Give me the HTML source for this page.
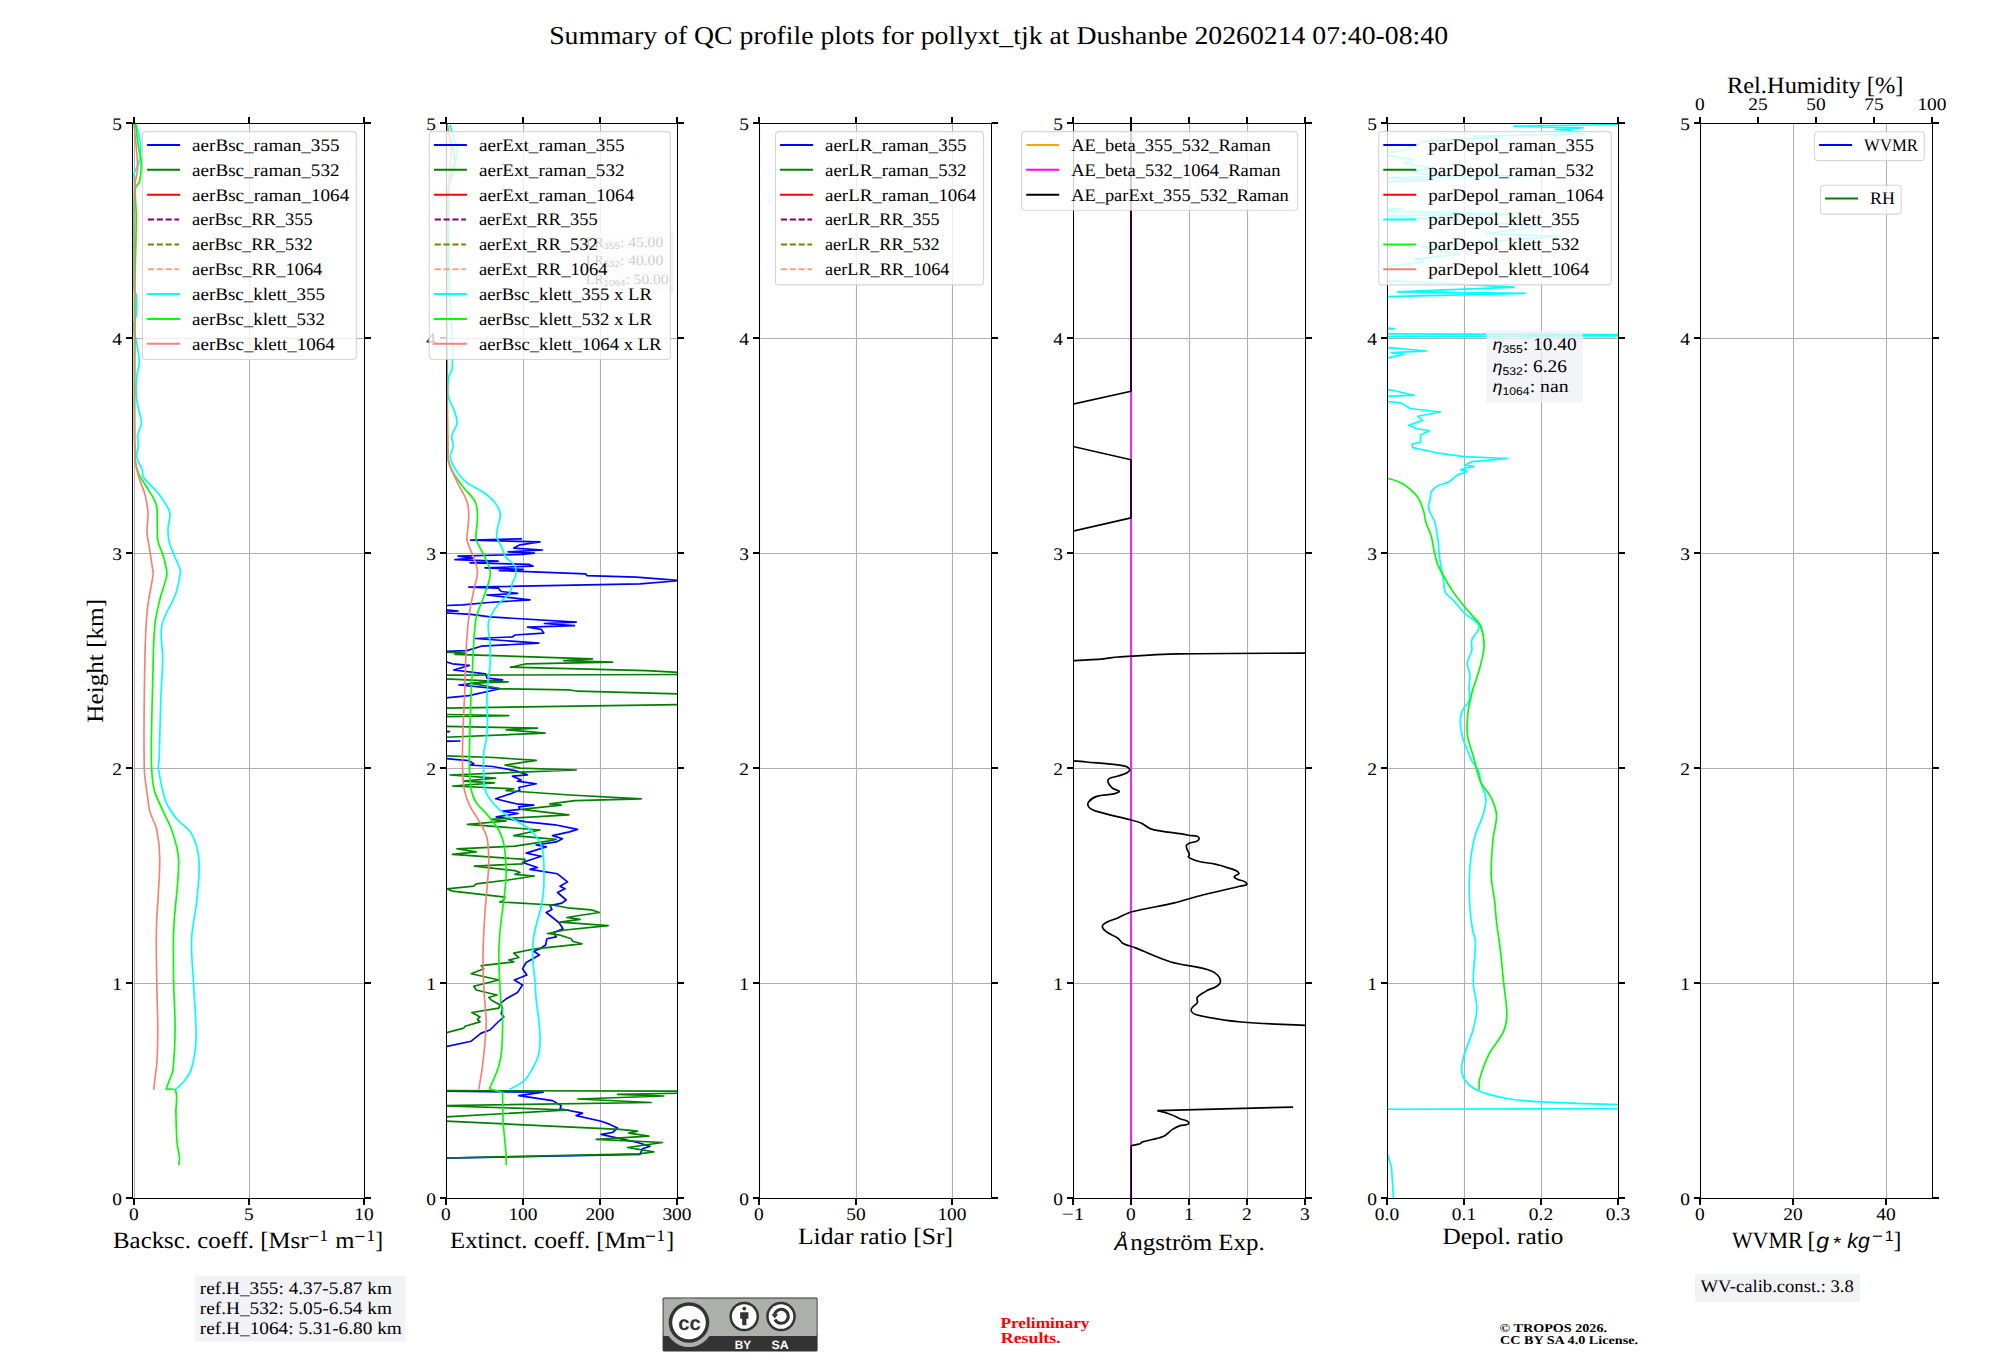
<!DOCTYPE html><html><head><meta charset="utf-8"><style>html,body{margin:0;padding:0;background:#fff}svg{display:block;text-rendering:geometricPrecision}.fs{font-family:"Liberation Serif",serif}.fa{font-family:"Liberation Sans",sans-serif}</style></head><body><svg width="2000" height="1360" viewBox="0 0 2000 1360"><rect width="2000" height="1360" fill="#fff"/><text class="fs" x="998.60" y="43.80" font-size="25.78" text-anchor="middle" fill="#000" textLength="898.95" lengthAdjust="spacingAndGlyphs">Summary of QC profile plots for pollyxt_tjk at Dushanbe 20260214 07:40-08:40</text><defs><clipPath id="c0"><rect x="132.5" y="123.5" width="232.0" height="1075.0"/></clipPath></defs><path d="M134.50 123.5V1198.5 M249.50 123.5V1198.5 M364.50 123.5V1198.5 M132.5 1198.50H364.5 M132.5 983.50H364.5 M132.5 768.50H364.5 M132.5 553.50H364.5 M132.5 338.50H364.5 M132.5 123.50H364.5" stroke="#b0b0b0" stroke-width="1.11" fill="none"/><g clip-path="url(#c0)"><path d="M136.3 124.0C137.7 130.7 139.8 137.2 140.4 144.0C140.9 149.3 140.8 154.8 139.6 160.0C138.3 165.9 134.1 171.0 133.1 177.0C131.9 184.6 133.0 192.3 133.1 200.0C133.3 230.0 132.9 260.0 133.9 290.0C134.0 291.8 136.1 293.2 136.3 295.0C136.9 301.6 137.0 308.4 136.3 315.0C135.9 319.1 133.2 322.9 133.1 327.0C133.0 330.8 134.9 334.4 135.7 338.2C136.7 343.0 137.6 347.8 138.3 352.7C138.8 356.1 139.5 359.6 139.3 363.0C139.0 367.5 137.3 371.8 136.8 376.3C136.2 382.1 135.9 388.0 136.2 393.9C136.4 398.7 137.4 403.5 138.3 408.3C139.2 413.1 141.5 417.8 141.4 422.7C141.3 427.0 138.4 430.8 137.8 435.0C137.3 438.8 138.5 442.6 138.3 446.4C138.2 448.8 136.9 451.2 136.8 453.6C136.7 455.7 136.8 458.0 137.5 460.0C138.7 463.5 141.2 466.5 142.4 470.0C143.2 472.2 142.1 475.0 143.4 477.0C147.1 482.6 152.8 486.6 157.0 491.8C160.3 495.8 163.3 500.1 166.0 504.6C167.7 507.5 169.7 510.5 170.0 513.8C170.4 518.7 168.2 523.6 168.0 528.5C167.8 532.8 168.1 537.2 169.0 541.4C170.0 545.9 172.0 550.0 173.7 554.3C175.7 559.3 178.3 563.9 180.0 569.0C180.5 570.6 180.5 572.4 180.2 574.0C179.0 580.7 178.0 587.4 175.7 593.8C171.8 604.7 164.1 614.3 161.8 625.6C159.6 636.5 162.9 647.9 162.7 659.0C162.5 672.3 161.3 685.7 160.8 699.0C160.1 718.9 159.9 738.8 159.2 758.7C159.1 762.0 157.9 765.3 158.4 768.6C159.8 778.7 161.9 788.6 164.7 798.4C165.9 802.5 168.1 806.3 170.3 810.0C172.4 813.6 174.9 816.9 177.7 820.0C182.1 824.9 188.5 828.0 191.6 833.8C195.8 841.7 198.2 850.8 198.9 859.7C200.0 872.9 198.1 886.2 196.9 899.4C195.7 912.7 192.1 925.8 191.6 939.1C191.0 953.7 192.8 968.3 193.5 982.9C194.3 1001.4 196.5 1020.0 196.1 1038.5C195.9 1048.5 194.2 1058.6 191.6 1068.3C190.4 1072.8 187.5 1076.8 184.7 1080.6C182.1 1084.1 178.5 1086.7 175.4 1089.8" fill="none" stroke="#00ffff" stroke-width="1.67" stroke-linejoin="round"/><path d="M135.5 124.0C136.6 132.3 137.5 140.7 138.8 149.0C139.4 152.9 141.1 156.6 141.2 160.5C141.4 167.5 141.0 174.6 139.6 181.5C139.1 184.0 135.7 185.4 135.5 188.0C134.6 197.6 136.4 207.3 136.3 217.0C136.2 238.7 135.2 260.3 135.0 282.0C134.8 298.0 135.0 314.0 135.0 330.0C135.0 372.9 134.0 415.8 135.1 458.7C135.2 463.9 136.9 469.1 138.8 474.0C140.5 478.3 143.7 481.9 146.0 486.0C149.5 492.1 154.2 497.8 156.2 504.6C158.0 510.5 156.9 516.9 157.2 523.0C157.5 529.1 156.9 535.4 158.0 541.4C158.8 545.9 161.4 549.9 162.7 554.3C164.2 559.1 165.5 564.0 166.4 569.0C166.8 571.3 167.2 573.6 166.7 575.9C165.0 584.0 161.7 591.7 159.8 599.7C157.8 608.3 155.6 616.8 154.8 625.6C153.2 643.4 153.3 661.3 152.8 679.2C152.1 705.7 151.2 732.2 151.4 758.7C151.5 768.7 151.8 778.7 153.8 788.5C155.3 795.5 159.0 801.8 161.8 808.4C164.9 815.7 169.2 822.5 171.7 830.0C174.9 839.7 178.4 849.5 178.6 859.7C179.1 882.9 174.6 906.0 173.7 929.2C173.0 947.1 173.4 965.0 173.7 982.9C173.9 998.1 175.2 1013.4 175.1 1028.6C175.0 1042.5 174.4 1056.5 172.9 1070.3C172.5 1073.9 170.5 1077.2 169.3 1080.6C168.2 1083.5 167.1 1086.4 166.0 1089.3" fill="none" stroke="#00ff00" stroke-width="1.67" stroke-linejoin="round"/><path d="M166.0 1089.3C169.1 1089.7 174.1 1087.5 175.4 1090.4C178.3 1096.8 175.7 1104.5 175.9 1111.5C176.2 1121.8 176.2 1132.1 177.0 1142.3C177.4 1147.5 179.1 1152.6 179.5 1157.8C179.7 1160.2 179.0 1162.6 178.7 1165.0" fill="none" stroke="#00ff00" stroke-width="1.67" stroke-linejoin="round"/><path d="M133.9 124.0C134.7 131.8 135.6 139.7 136.3 147.5C136.9 154.5 137.8 161.6 137.6 168.6C137.4 174.1 135.2 179.3 135.0 184.8C134.2 206.5 134.6 228.3 134.5 250.0C134.3 300.0 134.2 350.0 134.3 400.0C134.4 419.6 134.0 439.2 135.1 458.7C135.5 464.9 137.1 471.0 138.8 477.0C140.5 483.3 143.6 489.1 145.2 495.4C146.7 501.4 147.7 507.6 148.0 513.8C148.3 519.9 146.7 525.9 147.0 532.0C147.3 538.3 148.9 544.4 149.8 550.6C150.7 556.7 151.7 562.9 152.6 569.0C152.8 570.6 153.4 572.3 153.2 573.9C151.6 585.9 148.5 597.7 147.3 609.7C145.7 626.2 145.2 642.8 144.9 659.3C144.2 695.7 143.5 732.2 144.3 768.6C144.5 778.6 146.5 788.5 147.8 798.4C148.4 803.0 148.7 807.6 150.0 812.0C151.8 818.2 155.5 823.7 156.8 830.0C158.8 839.7 159.8 849.7 159.8 859.7C159.7 882.9 157.0 906.0 156.4 929.2C156.0 947.1 156.5 965.0 156.8 982.9C157.0 998.1 157.7 1013.4 157.8 1028.6C157.8 1039.1 157.6 1049.5 157.1 1060.0C156.8 1065.2 156.0 1070.3 155.4 1075.4C154.8 1080.2 154.2 1085.0 153.6 1089.8" fill="none" stroke="#fa8072" stroke-width="1.67" stroke-linejoin="round"/></g><rect x="132.5" y="123.5" width="232.00" height="1075.00" fill="none" stroke="#000" stroke-width="1.11" shape-rendering="crispEdges"/><path d="M126.00 1198.00H132.5M364.5 1198.00H371.00M126.00 983.00H132.5M364.5 983.00H371.00M126.00 768.00H132.5M364.5 768.00H371.00M126.00 553.00H132.5M364.5 553.00H371.00M126.00 338.00H132.5M364.5 338.00H371.00M126.00 123.00H132.5M364.5 123.00H371.00M134.00 1198.5V1205.00M134.00 123.5V117.00M249.00 1198.5V1205.00M249.00 123.5V117.00M364.00 1198.5V1205.00M364.00 123.5V117.00" stroke="#000" stroke-width="2.0" fill="none"/><text class="fs" x="134.00" y="1219.80" font-size="17.72" text-anchor="middle" fill="#000" textLength="9.72" lengthAdjust="spacingAndGlyphs">0</text><text class="fs" x="249.00" y="1219.80" font-size="17.72" text-anchor="middle" fill="#000" textLength="9.72" lengthAdjust="spacingAndGlyphs">5</text><text class="fs" x="364.00" y="1219.80" font-size="17.72" text-anchor="middle" fill="#000" textLength="19.44" lengthAdjust="spacingAndGlyphs">10</text><text class="fs" x="122.10" y="1204.50" font-size="17.72" text-anchor="end" fill="#000" textLength="9.72" lengthAdjust="spacingAndGlyphs">0</text><text class="fs" x="122.10" y="989.50" font-size="17.72" text-anchor="end" fill="#000" textLength="9.72" lengthAdjust="spacingAndGlyphs">1</text><text class="fs" x="122.10" y="774.50" font-size="17.72" text-anchor="end" fill="#000" textLength="9.72" lengthAdjust="spacingAndGlyphs">2</text><text class="fs" x="122.10" y="559.50" font-size="17.72" text-anchor="end" fill="#000" textLength="9.72" lengthAdjust="spacingAndGlyphs">3</text><text class="fs" x="122.10" y="344.50" font-size="17.72" text-anchor="end" fill="#000" textLength="9.72" lengthAdjust="spacingAndGlyphs">4</text><text class="fs" x="122.10" y="129.50" font-size="17.72" text-anchor="end" fill="#000" textLength="9.72" lengthAdjust="spacingAndGlyphs">5</text><defs><clipPath id="c1"><rect x="446.5" y="123.5" width="231.0" height="1075.0"/></clipPath></defs><path d="M446.50 123.5V1198.5 M523.50 123.5V1198.5 M600.50 123.5V1198.5 M677.50 123.5V1198.5 M446.5 1198.50H677.5 M446.5 983.50H677.5 M446.5 768.50H677.5 M446.5 553.50H677.5 M446.5 338.50H677.5 M446.5 123.50H677.5" stroke="#b0b0b0" stroke-width="1.11" fill="none"/><g clip-path="url(#c1)"><polyline points="440.0,1091.0 543.1,1092.2 518.8,1095.6 552.5,1100.6 561.2,1105.6 560.0,1108.8 582.5,1113.1 576.2,1115.6 601.2,1121.2 610.0,1124.4 617.5,1128.1 612.5,1132.5 601.2,1134.4 637.5,1142.5 650.0,1146.2 642.5,1148.8 640.0,1154.4 440.0,1158.3" fill="none" stroke="#0000ff" stroke-width="1.67" stroke-linejoin="round"/><polyline points="440.0,758.1 468.8,760.6 473.8,763.8 470.0,765.0 492.5,766.5 515.0,770.6 527.5,774.8 512.5,776.2 521.2,780.0 517.5,781.2 536.2,783.8 518.8,787.5 520.0,790.0 512.5,793.1 495.6,798.8 516.2,803.8 533.8,805.2 518.8,806.9 520.0,809.4 502.5,811.2 518.1,813.5 496.2,816.9 526.2,821.9 555.0,824.8 577.5,829.4 569.4,831.9 552.5,835.6 562.5,838.8 556.2,841.9 536.2,845.0 546.2,846.9 526.2,853.1 541.2,856.2 522.5,862.5 537.5,867.5 530.0,869.4 557.5,873.8 567.5,881.9 560.0,886.2 565.0,888.8 557.5,892.5 566.2,900.0 561.9,903.1 550.0,905.6 551.9,909.4 546.2,912.5 552.5,917.5 558.8,922.5 563.1,928.8 553.8,932.5 556.2,936.9 546.9,938.8 545.6,945.0 540.0,948.8 533.8,951.2 539.4,955.0 526.2,962.5 522.5,968.8 526.9,975.0 514.4,980.0 522.5,985.0 517.5,992.5 506.2,998.8 500.6,1003.1 502.5,1008.8 501.2,1013.8 503.8,1016.9 497.5,1022.5 490.0,1030.0 481.2,1033.1 471.2,1041.2 440.0,1048.0" fill="none" stroke="#0000ff" stroke-width="1.67" stroke-linejoin="round"/><polyline points="440.0,741.2 460.0,741.0 440.0,741.6" fill="none" stroke="#0000ff" stroke-width="1.67" stroke-linejoin="round"/><polyline points="440.0,731.2 449.4,731.6 440.0,732.0" fill="none" stroke="#0000ff" stroke-width="1.67" stroke-linejoin="round"/><polyline points="521.9,538.8 470.6,540.2 540.0,541.9 520.0,544.8 513.8,548.1 542.5,550.0 508.1,551.9 534.4,553.1 521.9,554.4 458.1,556.2 473.8,558.1 455.0,559.6 498.1,561.2 470.0,562.8 529.4,564.4 533.1,566.2 485.0,567.8 523.1,569.4 499.4,570.6 585.6,573.8 586.9,575.6 636.2,577.2 680.0,580.6 640.0,583.8 468.8,587.1 498.1,588.1 501.2,591.5 517.5,593.4 486.9,595.0 530.0,599.8 488.8,602.5 462.5,604.8 440.0,605.8 440.0,609.4 458.1,611.0 440.0,612.5 471.2,614.4 490.0,616.9 576.2,622.2 544.4,623.5 574.4,625.6 527.5,627.2 541.2,629.4 543.8,633.1 515.0,635.0 512.5,636.9 475.6,638.5 538.8,643.1 481.2,646.2 466.9,650.6 440.0,651.5 440.0,660.0 452.5,663.8 469.4,665.4 453.8,670.0 485.6,673.8 486.9,678.1 502.5,679.8 458.8,685.0 500.0,688.8 468.8,695.6 440.0,698.5" fill="none" stroke="#0000ff" stroke-width="1.67" stroke-linejoin="round"/><polyline points="440.0,1120.8 620.0,1129.4 637.5,1131.2 628.8,1133.1 648.8,1136.2 596.2,1139.4 662.5,1142.5 627.5,1147.5 653.8,1151.9 638.8,1153.8 440.0,1158.1" fill="none" stroke="#008000" stroke-width="1.67" stroke-linejoin="round"/><polyline points="690.0,1093.0 617.5,1094.4 663.8,1096.0 577.5,1099.0 651.2,1102.5 440.0,1105.6 568.8,1110.0 440.0,1117.2" fill="none" stroke="#008000" stroke-width="1.67" stroke-linejoin="round"/><polyline points="440.0,1090.6 690.0,1091.2" fill="none" stroke="#008000" stroke-width="1.67" stroke-linejoin="round"/><polyline points="440.0,755.6 493.8,757.5 536.2,760.4 505.0,765.0 520.0,768.1 576.2,770.0 450.0,775.0 495.6,778.1 463.1,781.2 494.4,782.8 452.5,786.0 513.8,788.8 506.2,790.6 570.0,795.0 641.2,798.8 575.0,800.6 550.0,803.8 561.2,805.2 521.2,809.4 568.8,814.8 491.2,819.4 506.2,821.0 467.5,824.4 540.0,830.0 513.8,835.6 556.2,839.4 547.5,841.2 515.0,846.2 456.9,848.8 476.2,851.9 452.5,854.4 525.0,859.4 522.5,863.8 474.4,866.2 515.0,870.6 520.0,872.5 515.0,874.4 534.4,876.0 508.1,880.0 476.2,883.8 473.8,886.2 446.9,888.8 452.5,891.2 505.0,897.2 502.5,901.2 500.0,901.9 552.5,905.0 567.5,907.8 591.2,909.8 599.4,912.5 582.5,915.0 566.9,917.5 580.0,919.4 560.0,922.2 608.1,925.6 565.0,930.0 547.5,933.5 558.8,934.8 571.2,938.8 572.5,941.2 581.9,943.8 535.0,948.8 513.8,953.1 518.8,957.5 508.8,960.0 513.8,961.9 481.2,965.6 483.8,968.8 471.2,973.8 498.8,980.0 473.8,986.2 476.2,990.0 496.9,995.0 488.8,997.5 491.2,1000.0 500.0,1005.0 498.8,1008.1 471.9,1012.5 480.0,1016.9 477.5,1019.4 480.0,1021.9 465.0,1026.2 463.8,1028.1 449.4,1031.9 440.0,1034.5" fill="none" stroke="#008000" stroke-width="1.67" stroke-linejoin="round"/><polyline points="440.0,726.2 537.5,728.1 506.2,729.8 545.0,733.1 440.0,737.5" fill="none" stroke="#008000" stroke-width="1.67" stroke-linejoin="round"/><polyline points="440.0,714.4 508.8,715.6 440.0,716.9" fill="none" stroke="#008000" stroke-width="1.67" stroke-linejoin="round"/><polyline points="690.0,704.5 440.0,708.2" fill="none" stroke="#008000" stroke-width="1.67" stroke-linejoin="round"/><polyline points="440.0,678.6 508.1,681.9 470.6,683.1 501.2,688.8 568.8,689.8 577.5,691.2 690.0,694.2" fill="none" stroke="#008000" stroke-width="1.67" stroke-linejoin="round"/><polyline points="690.0,674.5 440.0,675.2" fill="none" stroke="#008000" stroke-width="1.67" stroke-linejoin="round"/><polyline points="440.0,651.9 465.6,653.1 455.0,654.4 592.5,658.8 563.8,660.6 612.5,662.2 526.2,663.8 510.6,667.2 646.2,670.6 690.0,673.0" fill="none" stroke="#008000" stroke-width="1.67" stroke-linejoin="round"/><path d="M449.9 124.7C452.3 134.3 456.8 143.6 457.0 153.5C457.1 160.0 452.0 165.6 450.9 172.0C449.3 181.2 449.2 190.6 449.0 200.0C448.6 220.0 448.8 240.0 449.0 260.0C449.1 273.3 449.4 286.7 450.0 300.0C450.4 310.0 451.6 320.0 452.0 330.0C452.4 339.8 452.5 349.6 452.5 359.4C452.5 362.8 452.5 366.3 451.8 369.7C451.3 372.3 449.2 374.4 448.8 377.0C447.9 383.3 447.3 389.8 448.1 396.2C448.6 399.9 451.1 403.0 452.5 406.5C453.8 409.9 455.3 413.3 456.2 416.8C456.8 419.2 457.4 421.7 456.9 424.1C455.9 428.3 452.5 431.7 451.8 435.9C451.2 439.3 453.4 442.7 453.2 446.2C452.9 450.2 449.6 454.0 450.3 458.0C451.2 463.4 454.5 468.1 457.6 472.6C460.2 476.5 463.5 480.0 467.2 482.9C471.9 486.5 477.8 488.4 482.6 491.8C486.9 494.8 491.1 498.0 494.4 502.1C497.1 505.5 499.8 509.5 500.3 513.8C500.9 518.8 498.1 523.6 497.4 528.5C497.0 531.5 496.3 534.6 496.9 537.5C497.6 540.7 499.9 543.3 501.2 546.2C503.0 550.0 503.9 554.1 506.2 557.5C508.6 560.9 513.2 562.6 515.0 566.2C516.5 569.2 516.1 572.9 515.6 576.2C515.2 578.5 513.3 580.3 512.5 582.5C511.4 585.7 511.9 589.6 510.0 592.5C507.1 597.0 502.1 599.6 498.8 603.8C495.4 608.0 492.3 612.6 490.0 617.5C488.7 620.2 488.1 623.3 488.1 626.2C488.1 631.7 489.7 637.1 490.0 642.5C490.4 650.8 490.4 659.2 490.0 667.5C489.8 671.7 488.5 675.8 488.1 680.0C487.4 687.5 487.0 695.0 486.9 702.5C486.8 708.8 487.6 715.0 487.5 721.2C487.4 727.5 487.0 733.8 486.2 740.0C485.7 744.2 484.0 748.3 483.8 752.5C483.2 760.8 483.5 769.2 483.8 777.5C483.9 781.7 483.6 786.0 485.0 790.0C486.6 794.6 489.4 798.8 492.5 802.5C496.5 807.2 501.2 811.4 506.2 815.0C512.9 819.8 521.0 822.5 527.5 827.5C531.9 830.9 535.6 835.3 538.8 840.0C540.7 843.0 541.7 846.5 542.5 850.0C543.4 854.1 543.6 858.3 543.8 862.5C544.0 870.8 544.2 879.2 543.8 887.5C543.4 893.8 542.5 900.1 541.2 906.2C540.0 912.6 537.7 918.7 536.2 925.0C535.0 930.4 533.6 935.8 533.1 941.2C532.5 948.3 532.8 955.4 533.1 962.5C533.4 968.8 534.5 975.0 535.0 981.2C535.5 987.5 535.7 993.8 536.2 1000.0C536.5 1003.3 537.1 1006.7 537.5 1010.0C538.4 1018.3 539.8 1026.6 540.0 1035.0C540.2 1041.3 540.1 1047.6 538.8 1053.8C537.7 1058.6 535.5 1063.1 533.1 1067.5C530.4 1072.4 527.8 1077.5 523.8 1081.2C519.7 1085.0 514.2 1086.7 509.4 1089.4" fill="none" stroke="#00ffff" stroke-width="1.67" stroke-linejoin="round"/><path d="M447.0 124.0C449.7 136.6 454.6 148.9 455.0 161.8C455.2 170.3 450.3 178.2 448.8 186.5C448.0 190.9 448.0 195.5 448.0 200.0C447.7 286.0 446.4 372.0 448.0 458.0C448.1 463.2 450.8 468.0 453.2 472.6C456.0 477.9 459.9 482.6 463.5 487.4C467.3 492.4 472.6 496.4 475.3 502.1C477.4 506.6 477.4 511.8 477.5 516.8C477.6 522.7 476.3 528.5 476.0 534.4C475.9 536.3 475.6 538.3 476.2 540.0C478.2 545.2 481.4 549.9 483.8 555.0C486.0 559.9 488.8 564.7 490.0 570.0C490.7 573.3 490.2 576.8 489.4 580.0C487.7 586.8 484.8 593.3 482.5 600.0C480.5 605.8 477.5 611.4 476.2 617.5C474.6 625.7 474.3 634.1 473.8 642.5C472.9 655.0 472.6 667.5 471.9 680.0C471.7 683.3 471.4 686.7 471.2 690.0C470.8 702.5 470.3 715.0 470.0 727.5C469.7 740.0 469.2 752.5 469.4 765.0C469.6 773.4 469.7 781.8 471.2 790.0C472.1 794.4 473.8 798.7 476.2 802.5C479.3 807.2 484.0 810.7 487.5 815.0C491.5 819.8 495.7 824.6 498.8 830.0C501.1 834.2 502.7 839.0 503.8 843.8C505.0 849.1 505.2 854.6 505.6 860.0C506.0 865.0 506.5 870.0 506.2 875.0C505.9 883.4 504.7 891.7 503.8 900.0C502.6 910.4 500.9 920.8 500.0 931.2C499.3 939.6 498.8 947.9 498.8 956.2C498.8 966.7 499.5 977.1 500.0 987.5C500.3 993.8 500.6 1000.0 501.2 1006.2C501.4 1007.6 502.5 1008.7 502.5 1010.0C502.7 1022.5 502.7 1035.0 501.9 1047.5C501.5 1053.8 500.6 1060.2 498.8 1066.2C496.4 1074.0 492.5 1081.2 489.4 1088.8" fill="none" stroke="#00ff00" stroke-width="1.67" stroke-linejoin="round"/><polyline points="489.4,1088.8 502.5,1092.5 503.1,1122.5 506.2,1155.0 506.2,1165.0" fill="none" stroke="#00ff00" stroke-width="1.67" stroke-linejoin="round"/><path d="M447.0 124.0C448.3 132.5 450.6 140.8 450.9 149.4C451.2 160.4 449.5 171.4 448.8 182.4C448.4 188.3 447.5 194.1 447.5 200.0C447.3 286.0 445.4 372.0 448.1 458.0C448.3 465.8 453.1 472.8 456.2 480.0C459.5 487.6 464.6 494.3 467.2 502.1C468.8 506.8 468.7 511.9 468.7 516.8C468.7 522.7 467.7 528.5 467.2 534.4C467.1 536.3 466.4 538.2 466.9 540.0C468.2 545.2 470.8 549.9 472.5 555.0C474.3 560.4 477.3 565.6 477.5 571.2C477.7 577.6 474.9 583.7 473.8 590.0C472.0 599.2 469.9 608.3 468.8 617.5C467.4 627.9 466.8 638.3 466.2 648.8C465.3 665.8 465.1 682.9 464.4 700.0C464.0 709.2 463.4 718.3 463.1 727.5C462.7 740.0 462.2 752.5 462.5 765.0C462.7 773.4 462.9 781.8 464.4 790.0C465.4 795.6 467.5 801.1 470.0 806.2C472.8 812.0 477.0 816.9 480.0 822.5C482.6 827.3 485.6 832.1 486.9 837.5C488.6 844.8 488.5 852.5 488.8 860.0C488.9 865.0 488.5 870.0 488.1 875.0C487.2 887.5 485.8 900.0 485.0 912.5C484.2 925.0 483.3 937.5 483.1 950.0C482.9 962.5 483.2 975.0 483.8 987.5C484.2 998.4 485.8 1009.1 486.2 1020.0C486.4 1025.0 486.0 1030.0 485.6 1035.0C484.8 1045.4 483.8 1055.9 482.5 1066.2C481.5 1074.0 480.0 1081.7 478.8 1089.4" fill="none" stroke="#fa8072" stroke-width="1.67" stroke-linejoin="round"/></g><rect x="446.5" y="123.5" width="231.00" height="1075.00" fill="none" stroke="#000" stroke-width="1.11" shape-rendering="crispEdges"/><path d="M440.00 1198.00H446.5M677.5 1198.00H684.00M440.00 983.00H446.5M677.5 983.00H684.00M440.00 768.00H446.5M677.5 768.00H684.00M440.00 553.00H446.5M677.5 553.00H684.00M440.00 338.00H446.5M677.5 338.00H684.00M440.00 123.00H446.5M677.5 123.00H684.00M446.00 1198.5V1205.00M446.00 123.5V117.00M523.00 1198.5V1205.00M523.00 123.5V117.00M600.00 1198.5V1205.00M600.00 123.5V117.00M677.00 1198.5V1205.00M677.00 123.5V117.00" stroke="#000" stroke-width="2.0" fill="none"/><text class="fs" x="446.00" y="1219.80" font-size="17.72" text-anchor="middle" fill="#000" textLength="9.72" lengthAdjust="spacingAndGlyphs">0</text><text class="fs" x="523.00" y="1219.80" font-size="17.72" text-anchor="middle" fill="#000" textLength="29.16" lengthAdjust="spacingAndGlyphs">100</text><text class="fs" x="600.00" y="1219.80" font-size="17.72" text-anchor="middle" fill="#000" textLength="29.16" lengthAdjust="spacingAndGlyphs">200</text><text class="fs" x="677.00" y="1219.80" font-size="17.72" text-anchor="middle" fill="#000" textLength="29.16" lengthAdjust="spacingAndGlyphs">300</text><text class="fs" x="436.10" y="1204.50" font-size="17.72" text-anchor="end" fill="#000" textLength="9.72" lengthAdjust="spacingAndGlyphs">0</text><text class="fs" x="436.10" y="989.50" font-size="17.72" text-anchor="end" fill="#000" textLength="9.72" lengthAdjust="spacingAndGlyphs">1</text><text class="fs" x="436.10" y="774.50" font-size="17.72" text-anchor="end" fill="#000" textLength="9.72" lengthAdjust="spacingAndGlyphs">2</text><text class="fs" x="436.10" y="559.50" font-size="17.72" text-anchor="end" fill="#000" textLength="9.72" lengthAdjust="spacingAndGlyphs">3</text><text class="fs" x="436.10" y="344.50" font-size="17.72" text-anchor="end" fill="#000" textLength="9.72" lengthAdjust="spacingAndGlyphs">4</text><text class="fs" x="436.10" y="129.50" font-size="17.72" text-anchor="end" fill="#000" textLength="9.72" lengthAdjust="spacingAndGlyphs">5</text><defs><clipPath id="c2"><rect x="759.5" y="123.5" width="232.0" height="1075.0"/></clipPath></defs><path d="M759.50 123.5V1198.5 M856.50 123.5V1198.5 M952.50 123.5V1198.5 M759.5 1198.50H991.5 M759.5 983.50H991.5 M759.5 768.50H991.5 M759.5 553.50H991.5 M759.5 338.50H991.5 M759.5 123.50H991.5" stroke="#b0b0b0" stroke-width="1.11" fill="none"/><g clip-path="url(#c2)"></g><rect x="759.5" y="123.5" width="232.00" height="1075.00" fill="none" stroke="#000" stroke-width="1.11" shape-rendering="crispEdges"/><path d="M753.00 1198.00H759.5M991.5 1198.00H998.00M753.00 983.00H759.5M991.5 983.00H998.00M753.00 768.00H759.5M991.5 768.00H998.00M753.00 553.00H759.5M991.5 553.00H998.00M753.00 338.00H759.5M991.5 338.00H998.00M753.00 123.00H759.5M991.5 123.00H998.00M759.00 1198.5V1205.00M759.00 123.5V117.00M856.00 1198.5V1205.00M856.00 123.5V117.00M952.00 1198.5V1205.00M952.00 123.5V117.00" stroke="#000" stroke-width="2.0" fill="none"/><text class="fs" x="759.00" y="1219.80" font-size="17.72" text-anchor="middle" fill="#000" textLength="9.72" lengthAdjust="spacingAndGlyphs">0</text><text class="fs" x="856.00" y="1219.80" font-size="17.72" text-anchor="middle" fill="#000" textLength="19.44" lengthAdjust="spacingAndGlyphs">50</text><text class="fs" x="952.00" y="1219.80" font-size="17.72" text-anchor="middle" fill="#000" textLength="29.16" lengthAdjust="spacingAndGlyphs">100</text><text class="fs" x="749.10" y="1204.50" font-size="17.72" text-anchor="end" fill="#000" textLength="9.72" lengthAdjust="spacingAndGlyphs">0</text><text class="fs" x="749.10" y="989.50" font-size="17.72" text-anchor="end" fill="#000" textLength="9.72" lengthAdjust="spacingAndGlyphs">1</text><text class="fs" x="749.10" y="774.50" font-size="17.72" text-anchor="end" fill="#000" textLength="9.72" lengthAdjust="spacingAndGlyphs">2</text><text class="fs" x="749.10" y="559.50" font-size="17.72" text-anchor="end" fill="#000" textLength="9.72" lengthAdjust="spacingAndGlyphs">3</text><text class="fs" x="749.10" y="344.50" font-size="17.72" text-anchor="end" fill="#000" textLength="9.72" lengthAdjust="spacingAndGlyphs">4</text><text class="fs" x="749.10" y="129.50" font-size="17.72" text-anchor="end" fill="#000" textLength="9.72" lengthAdjust="spacingAndGlyphs">5</text><defs><clipPath id="c3"><rect x="1073.5" y="123.5" width="232.0" height="1075.0"/></clipPath></defs><path d="M1073.50 123.5V1198.5 M1131.50 123.5V1198.5 M1189.50 123.5V1198.5 M1247.50 123.5V1198.5 M1305.50 123.5V1198.5 M1073.5 1198.50H1305.5 M1073.5 983.50H1305.5 M1073.5 768.50H1305.5 M1073.5 553.50H1305.5 M1073.5 338.50H1305.5 M1073.5 123.50H1305.5" stroke="#b0b0b0" stroke-width="1.11" fill="none"/><g clip-path="url(#c3)"><polyline points="1131.0,120.0 1131.0,1200.0" fill="none" stroke="#ff00ff" stroke-width="1.67" stroke-linejoin="round"/><polyline points="1131.0,120.0 1131.0,391.3 1060.0,407.0" fill="none" stroke="#000000" stroke-width="1.67" stroke-linejoin="round"/><polyline points="1060.0,443.5 1131.0,459.8 1131.0,517.9 1060.0,534.0" fill="none" stroke="#000000" stroke-width="1.67" stroke-linejoin="round"/><path d="M1060.0 661.5C1074.6 660.6 1089.2 659.9 1103.8 658.8C1108.5 658.4 1113.2 657.3 1117.9 657.0C1138.5 655.7 1159.1 654.3 1179.7 653.9C1226.5 653.0 1273.2 653.4 1320.0 653.1" fill="none" stroke="#000000" stroke-width="1.67" stroke-linejoin="round"/><path d="M1060.0 760.0C1068.7 760.7 1077.5 761.2 1086.2 762.0C1099.1 763.2 1112.3 763.5 1125.0 766.1C1127.1 766.5 1130.6 769.1 1129.4 770.8C1127.0 774.2 1121.8 774.5 1117.9 776.1C1114.7 777.4 1109.8 776.7 1108.2 779.7C1106.8 782.3 1109.9 785.4 1111.8 787.6C1113.6 789.7 1121.2 790.6 1118.8 792.0C1112.3 795.8 1103.9 794.1 1096.8 796.4C1093.8 797.4 1090.7 799.1 1088.8 801.7C1087.7 803.1 1087.7 805.6 1088.8 807.0C1090.7 809.3 1093.9 810.5 1096.8 811.4C1107.2 814.6 1118.0 816.7 1128.5 819.4C1132.7 820.5 1136.9 821.2 1140.9 822.9C1144.6 824.5 1147.5 828.1 1151.4 829.1C1163.5 832.2 1176.2 832.7 1188.5 835.2C1192.2 835.9 1199.8 835.1 1199.1 838.8C1198.3 843.3 1189.1 841.1 1186.7 845.0C1185.0 847.9 1188.9 851.4 1189.4 854.7C1189.5 855.5 1187.8 856.6 1188.5 857.1C1191.6 859.3 1195.4 860.5 1199.1 861.5C1204.3 862.9 1209.8 863.0 1215.0 864.1C1219.2 865.0 1223.3 866.1 1227.3 867.6C1231.3 869.1 1236.3 869.5 1238.8 872.9C1240.0 874.6 1233.2 875.6 1234.4 877.3C1237.1 881.0 1244.4 879.6 1246.7 883.5C1248.0 885.6 1242.1 885.6 1239.7 886.2C1227.4 889.4 1214.9 891.9 1202.6 895.0C1193.1 897.4 1183.9 900.6 1174.4 902.9C1160.4 906.2 1146.0 908.1 1132.0 911.8C1127.1 913.1 1122.6 915.8 1117.9 917.9C1112.9 920.2 1106.7 920.9 1102.9 925.0C1101.4 926.7 1103.9 929.7 1105.6 931.2C1109.1 934.3 1114.0 935.5 1117.9 938.2C1119.9 939.6 1121.0 942.3 1123.2 943.5C1127.0 945.6 1131.5 946.3 1135.6 947.9C1147.4 952.5 1158.8 958.3 1170.9 962.0C1184.1 966.0 1198.6 965.6 1211.4 970.9C1215.9 972.7 1221.5 977.6 1220.3 982.3C1218.9 987.7 1210.8 988.1 1206.1 991.1C1203.1 993.1 1199.5 994.5 1197.3 997.3C1196.2 998.7 1198.1 1001.0 1197.3 1002.6C1195.9 1005.4 1191.1 1006.6 1191.1 1009.7C1191.1 1012.4 1194.7 1014.4 1197.3 1015.0C1211.8 1018.5 1226.6 1020.7 1241.4 1022.0C1267.5 1024.3 1293.8 1024.7 1320.0 1026.0" fill="none" stroke="#000000" stroke-width="1.67" stroke-linejoin="round"/><polyline points="1293.1,1107.1 1157.5,1110.6" fill="none" stroke="#000000" stroke-width="1.67" stroke-linejoin="round"/><path d="M1157.5 1110.6C1161.2 1111.6 1165.1 1112.4 1168.8 1113.8C1172.6 1115.1 1176.3 1117.0 1180.0 1118.8C1183.0 1120.1 1188.8 1119.8 1188.8 1123.1C1188.8 1126.1 1182.8 1124.5 1180.0 1125.6C1177.4 1126.6 1174.8 1127.9 1172.5 1129.4C1169.4 1131.4 1167.2 1134.8 1163.8 1136.2C1157.0 1139.1 1149.5 1139.7 1142.5 1141.9C1141.5 1142.2 1141.0 1143.4 1140.0 1143.8C1137.2 1144.7 1134.2 1145.0 1131.2 1145.6" fill="none" stroke="#000000" stroke-width="1.67" stroke-linejoin="round"/><polyline points="1131.2,1145.6 1131.2,1200.0" fill="none" stroke="#000000" stroke-width="1.67" stroke-linejoin="round"/></g><rect x="1073.5" y="123.5" width="232.00" height="1075.00" fill="none" stroke="#000" stroke-width="1.11" shape-rendering="crispEdges"/><path d="M1067.00 1198.00H1073.5M1305.5 1198.00H1312.00M1067.00 983.00H1073.5M1305.5 983.00H1312.00M1067.00 768.00H1073.5M1305.5 768.00H1312.00M1067.00 553.00H1073.5M1305.5 553.00H1312.00M1067.00 338.00H1073.5M1305.5 338.00H1312.00M1067.00 123.00H1073.5M1305.5 123.00H1312.00M1073.00 1198.5V1205.00M1073.00 123.5V117.00M1131.00 1198.5V1205.00M1131.00 123.5V117.00M1189.00 1198.5V1205.00M1189.00 123.5V117.00M1247.00 1198.5V1205.00M1247.00 123.5V117.00M1305.00 1198.5V1205.00M1305.00 123.5V117.00" stroke="#000" stroke-width="2.0" fill="none"/><text class="fs" x="1073.00" y="1219.80" font-size="17.72" text-anchor="middle" fill="#000" textLength="22.52" lengthAdjust="spacingAndGlyphs">−1</text><text class="fs" x="1131.00" y="1219.80" font-size="17.72" text-anchor="middle" fill="#000" textLength="9.72" lengthAdjust="spacingAndGlyphs">0</text><text class="fs" x="1189.00" y="1219.80" font-size="17.72" text-anchor="middle" fill="#000" textLength="9.72" lengthAdjust="spacingAndGlyphs">1</text><text class="fs" x="1247.00" y="1219.80" font-size="17.72" text-anchor="middle" fill="#000" textLength="9.72" lengthAdjust="spacingAndGlyphs">2</text><text class="fs" x="1305.00" y="1219.80" font-size="17.72" text-anchor="middle" fill="#000" textLength="9.72" lengthAdjust="spacingAndGlyphs">3</text><text class="fs" x="1063.10" y="1204.50" font-size="17.72" text-anchor="end" fill="#000" textLength="9.72" lengthAdjust="spacingAndGlyphs">0</text><text class="fs" x="1063.10" y="989.50" font-size="17.72" text-anchor="end" fill="#000" textLength="9.72" lengthAdjust="spacingAndGlyphs">1</text><text class="fs" x="1063.10" y="774.50" font-size="17.72" text-anchor="end" fill="#000" textLength="9.72" lengthAdjust="spacingAndGlyphs">2</text><text class="fs" x="1063.10" y="559.50" font-size="17.72" text-anchor="end" fill="#000" textLength="9.72" lengthAdjust="spacingAndGlyphs">3</text><text class="fs" x="1063.10" y="344.50" font-size="17.72" text-anchor="end" fill="#000" textLength="9.72" lengthAdjust="spacingAndGlyphs">4</text><text class="fs" x="1063.10" y="129.50" font-size="17.72" text-anchor="end" fill="#000" textLength="9.72" lengthAdjust="spacingAndGlyphs">5</text><defs><clipPath id="c4"><rect x="1387.5" y="123.5" width="231.0" height="1075.0"/></clipPath></defs><path d="M1387.50 123.5V1198.5 M1464.50 123.5V1198.5 M1541.50 123.5V1198.5 M1618.50 123.5V1198.5 M1387.5 1198.50H1618.5 M1387.5 983.50H1618.5 M1387.5 768.50H1618.5 M1387.5 553.50H1618.5 M1387.5 338.50H1618.5 M1387.5 123.50H1618.5" stroke="#b0b0b0" stroke-width="1.11" fill="none"/><g clip-path="url(#c4)"><polyline points="1630.0,124.3 1514.0,126.2 1582.7,127.9 1555.5,129.3 1569.0,130.2 1584.0,134.0 1473.9,136.1 1499.7,137.4 1420.8,141.5 1418.0,144.9 1403.1,150.4 1380.0,153.8 1414.0,159.9 1404.5,163.3 1431.7,168.1 1411.3,172.1 1431.7,174.9 1526.9,176.2 1380.0,177.6 1430.3,180.3 1380.0,182.3 1380.0,208.2 1401.1,208.9 1380.0,210.9 1516.0,214.3 1380.0,215.7 1537.8,225.9 1486.1,234.0 1558.2,236.1 1420.8,247.0 1460.3,254.5 1414.0,259.2 1423.5,262.0 1380.0,267.4 1380.0,280.3 1464.4,284.4 1514.0,287.1 1397.7,291.9 1525.3,293.3 1380.0,296.8 1380.0,327.5 1394.7,328.6 1380.0,329.6 1380.0,333.8 1630.0,334.7 1630.0,335.9 1380.0,336.6 1380.0,347.0 1394.0,348.2 1426.8,351.0 1391.2,352.6 1403.7,354.4 1380.0,359.6 1380.0,388.9 1392.6,390.3 1414.2,395.2 1380.0,396.6 1380.0,400.8 1401.0,402.9 1410.0,408.5 1440.8,412.0 1417.7,416.2 1422.6,420.4 1408.6,425.3 1417.0,428.7 1429.6,430.8 1420.5,435.0 1420.5,442.0 1412.1,444.1 1412.8,447.6 1438.7,453.2 1463.8,456.7 1507.8,458.5 1472.2,461.6 1465.2,465.1 1474.3,466.5" fill="none" stroke="#00ffff" stroke-width="1.67" stroke-linejoin="round"/><path d="M1474.3 466.5C1469.9 467.6 1465.0 467.3 1461.2 469.7C1459.6 470.7 1467.2 469.8 1466.5 471.5C1465.5 473.8 1461.7 473.0 1459.4 474.1C1457.5 475.0 1455.8 476.3 1454.1 477.6C1452.3 479.0 1450.9 481.1 1448.8 482.1C1445.5 483.8 1441.5 483.8 1438.2 485.6C1435.5 487.1 1432.8 489.1 1431.2 491.8C1430.0 493.8 1430.7 496.5 1430.3 498.8C1429.8 501.2 1428.5 503.5 1428.5 505.9C1428.5 508.3 1429.4 510.7 1430.3 512.9C1431.5 516.0 1433.6 518.7 1434.7 521.8C1435.7 524.6 1436.0 527.7 1436.5 530.6C1437.1 534.1 1437.8 537.6 1438.2 541.2C1438.7 545.3 1438.7 549.4 1439.1 553.5C1439.6 557.7 1440.2 561.8 1440.9 565.9C1441.7 570.6 1442.7 575.3 1443.5 580.0C1444.2 584.1 1443.4 588.6 1445.3 592.3C1447.2 596.0 1451.3 598.1 1454.1 601.2C1457.8 605.2 1460.9 609.7 1464.7 613.5C1469.1 617.9 1477.2 619.9 1478.8 625.9C1480.2 631.0 1473.2 635.0 1471.8 640.0C1470.8 643.4 1472.5 647.1 1471.8 650.6C1471.0 654.9 1467.6 658.5 1467.3 662.9C1467.0 667.1 1469.7 671.1 1470.0 675.3C1470.3 678.8 1469.2 682.4 1469.1 685.9C1468.9 690.8 1470.3 695.9 1469.1 700.6C1468.2 704.1 1464.4 706.1 1462.9 709.4C1461.4 712.7 1460.4 716.4 1460.3 720.0C1460.1 725.3 1461.0 730.7 1462.1 735.9C1463.0 740.2 1464.9 744.1 1466.5 748.2C1468.1 752.4 1469.7 756.6 1471.8 760.6C1473.8 764.3 1477.2 767.3 1478.8 771.2C1480.2 774.5 1479.7 778.3 1480.6 781.8C1482.1 787.7 1485.6 793.3 1485.9 799.4C1486.2 805.4 1484.0 811.3 1482.3 817.0C1480.5 823.1 1477.0 828.6 1475.3 834.7C1473.2 842.2 1471.9 849.9 1470.9 857.6C1469.8 866.4 1469.3 875.2 1469.1 884.1C1469.0 892.3 1469.4 900.6 1470.0 908.8C1470.5 915.9 1471.4 923.0 1472.6 930.0C1473.2 933.7 1475.3 937.2 1475.4 941.0C1475.6 955.0 1473.0 968.9 1473.3 982.9C1473.5 991.3 1476.8 999.6 1476.8 1008.0C1476.8 1015.1 1475.1 1022.1 1473.3 1029.0C1470.8 1038.3 1466.4 1046.9 1463.8 1056.2C1462.5 1061.0 1461.3 1066.0 1461.7 1070.9C1462.0 1074.7 1463.5 1078.5 1465.9 1081.4C1469.3 1085.4 1473.7 1088.8 1478.5 1090.8C1487.2 1094.5 1496.5 1096.6 1505.8 1098.2C1517.5 1100.3 1529.5 1101.2 1541.4 1101.9C1570.9 1103.5 1600.5 1104.0 1630.0 1105.0" fill="none" stroke="#00ffff" stroke-width="1.67" stroke-linejoin="round"/><polyline points="1630.0,1108.6 1380.0,1109.3" fill="none" stroke="#00ffff" stroke-width="1.67" stroke-linejoin="round"/><polyline points="1380.0,1150.0 1388.0,1155.8 1391.5,1167.3 1393.6,1200.0" fill="none" stroke="#00ffff" stroke-width="1.67" stroke-linejoin="round"/><path d="M1380.0 478.0C1382.6 478.2 1385.3 478.0 1387.9 478.5C1391.8 479.3 1395.8 480.4 1399.4 482.1C1403.2 483.9 1406.8 486.3 1410.0 489.1C1413.3 491.9 1416.6 495.0 1418.8 498.8C1421.4 503.1 1422.7 508.1 1424.1 512.9C1425.0 516.1 1424.9 519.5 1425.9 522.6C1427.3 527.2 1429.9 531.3 1431.2 535.9C1432.8 541.7 1433.3 547.7 1434.7 553.5C1435.7 557.7 1436.4 562.0 1438.2 565.9C1442.3 574.5 1447.2 582.6 1452.3 590.6C1455.5 595.6 1459.2 600.1 1462.9 604.7C1466.3 608.9 1470.0 612.8 1473.5 617.0C1475.9 619.9 1479.3 622.3 1480.6 625.9C1482.9 632.1 1484.1 638.7 1484.1 645.3C1484.1 651.9 1482.1 658.3 1480.6 664.7C1479.2 670.7 1477.1 676.5 1475.3 682.3C1474.5 684.9 1473.2 687.4 1472.6 690.0C1470.9 697.0 1469.1 704.0 1468.2 711.2C1467.3 718.8 1466.4 726.5 1467.3 734.1C1468.2 742.0 1471.4 749.4 1473.5 757.0C1475.8 765.3 1477.2 773.9 1480.6 781.8C1483.1 787.6 1488.5 791.9 1491.2 797.6C1493.8 803.2 1496.3 809.1 1496.5 815.3C1496.8 823.6 1493.6 831.7 1492.9 840.0C1491.9 851.7 1490.9 863.5 1491.2 875.3C1491.5 884.2 1493.7 892.9 1494.7 901.8C1495.4 907.9 1495.6 914.0 1496.3 920.0C1497.5 930.5 1499.3 940.9 1500.5 951.4C1501.7 961.9 1502.6 972.4 1503.7 982.9C1504.7 993.4 1506.8 1003.8 1506.8 1014.3C1506.8 1020.0 1506.0 1025.9 1503.7 1031.1C1500.0 1039.4 1493.1 1046.0 1489.0 1054.1C1485.0 1062.1 1482.0 1070.7 1479.6 1079.3C1478.7 1082.7 1479.3 1086.3 1479.1 1089.8" fill="none" stroke="#00ff00" stroke-width="1.67" stroke-linejoin="round"/></g><rect x="1387.5" y="123.5" width="231.00" height="1075.00" fill="none" stroke="#000" stroke-width="1.11" shape-rendering="crispEdges"/><path d="M1381.00 1198.00H1387.5M1618.5 1198.00H1625.00M1381.00 983.00H1387.5M1618.5 983.00H1625.00M1381.00 768.00H1387.5M1618.5 768.00H1625.00M1381.00 553.00H1387.5M1618.5 553.00H1625.00M1381.00 338.00H1387.5M1618.5 338.00H1625.00M1381.00 123.00H1387.5M1618.5 123.00H1625.00M1387.00 1198.5V1205.00M1387.00 123.5V117.00M1464.00 1198.5V1205.00M1464.00 123.5V117.00M1541.00 1198.5V1205.00M1541.00 123.5V117.00M1618.00 1198.5V1205.00M1618.00 123.5V117.00" stroke="#000" stroke-width="2.0" fill="none"/><text class="fs" x="1387.00" y="1219.80" font-size="17.72" text-anchor="middle" fill="#000" textLength="24.30" lengthAdjust="spacingAndGlyphs">0.0</text><text class="fs" x="1464.00" y="1219.80" font-size="17.72" text-anchor="middle" fill="#000" textLength="24.30" lengthAdjust="spacingAndGlyphs">0.1</text><text class="fs" x="1541.00" y="1219.80" font-size="17.72" text-anchor="middle" fill="#000" textLength="24.30" lengthAdjust="spacingAndGlyphs">0.2</text><text class="fs" x="1618.00" y="1219.80" font-size="17.72" text-anchor="middle" fill="#000" textLength="24.30" lengthAdjust="spacingAndGlyphs">0.3</text><text class="fs" x="1377.10" y="1204.50" font-size="17.72" text-anchor="end" fill="#000" textLength="9.72" lengthAdjust="spacingAndGlyphs">0</text><text class="fs" x="1377.10" y="989.50" font-size="17.72" text-anchor="end" fill="#000" textLength="9.72" lengthAdjust="spacingAndGlyphs">1</text><text class="fs" x="1377.10" y="774.50" font-size="17.72" text-anchor="end" fill="#000" textLength="9.72" lengthAdjust="spacingAndGlyphs">2</text><text class="fs" x="1377.10" y="559.50" font-size="17.72" text-anchor="end" fill="#000" textLength="9.72" lengthAdjust="spacingAndGlyphs">3</text><text class="fs" x="1377.10" y="344.50" font-size="17.72" text-anchor="end" fill="#000" textLength="9.72" lengthAdjust="spacingAndGlyphs">4</text><text class="fs" x="1377.10" y="129.50" font-size="17.72" text-anchor="end" fill="#000" textLength="9.72" lengthAdjust="spacingAndGlyphs">5</text><defs><clipPath id="c5"><rect x="1700.5" y="123.5" width="232.0" height="1075.0"/></clipPath></defs><path d="M1700.50 123.5V1198.5 M1793.50 123.5V1198.5 M1886.50 123.5V1198.5 M1700.5 1198.50H1932.5 M1700.5 983.50H1932.5 M1700.5 768.50H1932.5 M1700.5 553.50H1932.5 M1700.5 338.50H1932.5 M1700.5 123.50H1932.5" stroke="#b0b0b0" stroke-width="1.11" fill="none"/><g clip-path="url(#c5)"></g><rect x="1700.5" y="123.5" width="232.00" height="1075.00" fill="none" stroke="#000" stroke-width="1.11" shape-rendering="crispEdges"/><path d="M1694.00 1198.00H1700.5M1932.5 1198.00H1939.00M1694.00 983.00H1700.5M1932.5 983.00H1939.00M1694.00 768.00H1700.5M1932.5 768.00H1939.00M1694.00 553.00H1700.5M1932.5 553.00H1939.00M1694.00 338.00H1700.5M1932.5 338.00H1939.00M1694.00 123.00H1700.5M1932.5 123.00H1939.00M1700.00 1198.5V1205.00M1793.00 1198.5V1205.00M1886.00 1198.5V1205.00M1700.00 123.5V117.00M1758.00 123.5V117.00M1816.00 123.5V117.00M1874.00 123.5V117.00M1932.00 123.5V117.00" stroke="#000" stroke-width="2.0" fill="none"/><text class="fs" x="1700.00" y="1219.80" font-size="17.72" text-anchor="middle" fill="#000" textLength="9.72" lengthAdjust="spacingAndGlyphs">0</text><text class="fs" x="1793.00" y="1219.80" font-size="17.72" text-anchor="middle" fill="#000" textLength="19.44" lengthAdjust="spacingAndGlyphs">20</text><text class="fs" x="1886.00" y="1219.80" font-size="17.72" text-anchor="middle" fill="#000" textLength="19.44" lengthAdjust="spacingAndGlyphs">40</text><text class="fs" x="1690.10" y="1204.50" font-size="17.72" text-anchor="end" fill="#000" textLength="9.72" lengthAdjust="spacingAndGlyphs">0</text><text class="fs" x="1690.10" y="989.50" font-size="17.72" text-anchor="end" fill="#000" textLength="9.72" lengthAdjust="spacingAndGlyphs">1</text><text class="fs" x="1690.10" y="774.50" font-size="17.72" text-anchor="end" fill="#000" textLength="9.72" lengthAdjust="spacingAndGlyphs">2</text><text class="fs" x="1690.10" y="559.50" font-size="17.72" text-anchor="end" fill="#000" textLength="9.72" lengthAdjust="spacingAndGlyphs">3</text><text class="fs" x="1690.10" y="344.50" font-size="17.72" text-anchor="end" fill="#000" textLength="9.72" lengthAdjust="spacingAndGlyphs">4</text><text class="fs" x="1690.10" y="129.50" font-size="17.72" text-anchor="end" fill="#000" textLength="9.72" lengthAdjust="spacingAndGlyphs">5</text><text class="fs" x="1700.00" y="109.50" font-size="17.72" text-anchor="middle" fill="#000" textLength="9.72" lengthAdjust="spacingAndGlyphs">0</text><text class="fs" x="1758.00" y="109.50" font-size="17.72" text-anchor="middle" fill="#000" textLength="19.44" lengthAdjust="spacingAndGlyphs">25</text><text class="fs" x="1816.00" y="109.50" font-size="17.72" text-anchor="middle" fill="#000" textLength="19.44" lengthAdjust="spacingAndGlyphs">50</text><text class="fs" x="1874.00" y="109.50" font-size="17.72" text-anchor="middle" fill="#000" textLength="19.44" lengthAdjust="spacingAndGlyphs">75</text><text class="fs" x="1932.00" y="109.50" font-size="17.72" text-anchor="middle" fill="#000" textLength="29.16" lengthAdjust="spacingAndGlyphs">100</text><g transform="translate(102.9 660.8) rotate(-90)"><text class="fs" x="0.00" y="0.00" font-size="23.43" text-anchor="middle" fill="#000" textLength="123.67" lengthAdjust="spacingAndGlyphs">Height [km]</text></g><text class="fs" x="113.05" y="1248.00" font-size="23.43" fill="#000" textLength="195.45" lengthAdjust="spacingAndGlyphs">Backsc. coeff. [Msr</text><rect x="309.5" y="1235.9" width="8.7" height="1.2" fill="#000"/><text class="fs" x="319.28" y="1241.10" font-size="16.40" fill="#000" textLength="9.00" lengthAdjust="spacingAndGlyphs">1</text><text class="fs" x="335.21" y="1248.00" font-size="23.43" fill="#000" textLength="19.15" lengthAdjust="spacingAndGlyphs">m</text><rect x="355.3" y="1235.9" width="9.2" height="1.2" fill="#000"/><text class="fs" x="366.18" y="1241.10" font-size="16.40" fill="#000" textLength="9.00" lengthAdjust="spacingAndGlyphs">1</text><text class="fs" x="375.17" y="1248.00" font-size="23.43" fill="#000" textLength="7.88" lengthAdjust="spacingAndGlyphs">]</text><text class="fs" x="450.06" y="1247.70" font-size="23.43" fill="#000" textLength="195.62" lengthAdjust="spacingAndGlyphs">Extinct. coeff. [Mm</text><rect x="646.0" y="1235.7" width="9.0" height="1.2" fill="#000"/><text class="fs" x="656.18" y="1241.00" font-size="16.40" fill="#000" textLength="9.00" lengthAdjust="spacingAndGlyphs">1</text><text class="fs" x="666.37" y="1247.70" font-size="23.43" fill="#000" textLength="7.88" lengthAdjust="spacingAndGlyphs">]</text><text class="fs" x="875.50" y="1243.50" font-size="23.43" text-anchor="middle" fill="#000" textLength="155.04" lengthAdjust="spacingAndGlyphs">Lidar ratio [Sr]</text><text class="fa" x="1114.50" y="1249.90" font-size="21.21" font-style="italic" fill="#000" textLength="13.82" lengthAdjust="spacingAndGlyphs">Å</text><text class="fs" x="1130.30" y="1249.90" font-size="23.43" fill="#000" textLength="134.50" lengthAdjust="spacingAndGlyphs">ngström Exp.</text><text class="fs" x="1503.00" y="1243.50" font-size="23.43" text-anchor="middle" fill="#000" textLength="120.98" lengthAdjust="spacingAndGlyphs">Depol. ratio</text><text class="fs" x="1731.90" y="1247.50" font-size="23.43" fill="#000" textLength="70.75" lengthAdjust="spacingAndGlyphs">WVMR</text><text class="fs" x="1807.53" y="1247.50" font-size="23.43" fill="#000" textLength="7.88" lengthAdjust="spacingAndGlyphs">[</text><text class="fa" x="1816.28" y="1247.50" font-size="21.21" font-style="italic" fill="#000" textLength="12.82" lengthAdjust="spacingAndGlyphs">g</text><text class="fa" x="1833.06" y="1248.50" font-size="17.85" fill="#000" textLength="8.50" lengthAdjust="spacingAndGlyphs">*</text><text class="fa" x="1847.38" y="1247.50" font-size="21.21" font-style="italic" fill="#000" textLength="22.46" lengthAdjust="spacingAndGlyphs">kg</text><rect x="1872.9" y="1235.6" width="9.0" height="1.2" fill="#000"/><text class="fa" x="1884.69" y="1241.00" font-size="14.85" fill="#000" textLength="9.00" lengthAdjust="spacingAndGlyphs">1</text><text class="fs" x="1893.47" y="1247.50" font-size="23.43" fill="#000" textLength="7.88" lengthAdjust="spacingAndGlyphs">]</text><text class="fs" x="1815.20" y="92.70" font-size="23.43" text-anchor="middle" fill="#000" textLength="176.58" lengthAdjust="spacingAndGlyphs">Rel.Humidity [%]</text><rect x="579.4" y="230.9" width="94.4" height="62.6" fill="#eff1f5" fill-opacity="0.8"/><text class="fs" x="586.06" y="246.80" font-size="14.27" fill="#000" textLength="17.43" lengthAdjust="spacingAndGlyphs">LR</text><text class="fa" x="603.49" y="249.00" font-size="9.04" fill="#000" textLength="16.43" lengthAdjust="spacingAndGlyphs">355</text><text class="fs" x="619.93" y="246.80" font-size="14.27" fill="#000" textLength="43.27" lengthAdjust="spacingAndGlyphs">: 45.00</text><text class="fs" x="586.06" y="264.70" font-size="14.27" fill="#000" textLength="17.43" lengthAdjust="spacingAndGlyphs">LR</text><text class="fa" x="603.49" y="266.90" font-size="9.04" fill="#000" textLength="16.43" lengthAdjust="spacingAndGlyphs">532</text><text class="fs" x="619.93" y="264.70" font-size="14.27" fill="#000" textLength="43.27" lengthAdjust="spacingAndGlyphs">: 40.00</text><text class="fs" x="586.06" y="283.50" font-size="14.27" fill="#000" textLength="17.43" lengthAdjust="spacingAndGlyphs">LR</text><text class="fa" x="603.49" y="285.70" font-size="9.04" fill="#000" textLength="21.91" lengthAdjust="spacingAndGlyphs">1064</text><text class="fs" x="625.40" y="283.50" font-size="14.27" fill="#000" textLength="43.27" lengthAdjust="spacingAndGlyphs">: 50.00</text><rect x="142.50" y="131.60" width="213.80" height="227.93" rx="3.5" fill="#fff" fill-opacity="0.8" stroke="#cccccc" stroke-opacity="0.8" stroke-width="1.11"/><path d="M147.10 144.90H180.10" stroke="#0000ff" stroke-width="2"/><text class="fs" x="192.10" y="150.80" font-size="17.72" fill="#000" textLength="147.38" lengthAdjust="spacingAndGlyphs">aerBsc_raman_355</text><path d="M147.10 169.77H180.10" stroke="#008000" stroke-width="2"/><text class="fs" x="192.10" y="175.67" font-size="17.72" fill="#000" textLength="147.38" lengthAdjust="spacingAndGlyphs">aerBsc_raman_532</text><path d="M147.10 194.64H180.10" stroke="#ff0000" stroke-width="2"/><text class="fs" x="192.10" y="200.54" font-size="17.72" fill="#000" textLength="157.11" lengthAdjust="spacingAndGlyphs">aerBsc_raman_1064</text><path d="M147.90 219.51H179.10" stroke="#800080" stroke-width="2" stroke-dasharray="6.17 2.67"/><text class="fs" x="192.10" y="225.41" font-size="17.72" fill="#000" textLength="120.54" lengthAdjust="spacingAndGlyphs">aerBsc_RR_355</text><path d="M147.90 244.38H179.10" stroke="#808000" stroke-width="2" stroke-dasharray="6.17 2.67"/><text class="fs" x="192.10" y="250.28" font-size="17.72" fill="#000" textLength="120.54" lengthAdjust="spacingAndGlyphs">aerBsc_RR_532</text><path d="M147.90 269.25H179.10" stroke="#ffa07a" stroke-width="2" stroke-dasharray="6.17 2.67"/><text class="fs" x="192.10" y="275.15" font-size="17.72" fill="#000" textLength="130.26" lengthAdjust="spacingAndGlyphs">aerBsc_RR_1064</text><path d="M147.10 294.12H180.10" stroke="#00ffff" stroke-width="2"/><text class="fs" x="192.10" y="300.02" font-size="17.72" fill="#000" textLength="133.00" lengthAdjust="spacingAndGlyphs">aerBsc_klett_355</text><path d="M147.10 318.99H180.10" stroke="#00ff00" stroke-width="2"/><text class="fs" x="192.10" y="324.89" font-size="17.72" fill="#000" textLength="133.00" lengthAdjust="spacingAndGlyphs">aerBsc_klett_532</text><path d="M147.10 343.86H180.10" stroke="#fa8072" stroke-width="2"/><text class="fs" x="192.10" y="349.76" font-size="17.72" fill="#000" textLength="142.72" lengthAdjust="spacingAndGlyphs">aerBsc_klett_1064</text><rect x="429.30" y="131.60" width="241.00" height="227.93" rx="3.5" fill="#fff" fill-opacity="0.8" stroke="#cccccc" stroke-opacity="0.8" stroke-width="1.11"/><path d="M433.90 144.90H466.90" stroke="#0000ff" stroke-width="2"/><text class="fs" x="478.90" y="150.80" font-size="17.72" fill="#000" textLength="145.67" lengthAdjust="spacingAndGlyphs">aerExt_raman_355</text><path d="M433.90 169.77H466.90" stroke="#008000" stroke-width="2"/><text class="fs" x="478.90" y="175.67" font-size="17.72" fill="#000" textLength="145.67" lengthAdjust="spacingAndGlyphs">aerExt_raman_532</text><path d="M433.90 194.64H466.90" stroke="#ff0000" stroke-width="2"/><text class="fs" x="478.90" y="200.54" font-size="17.72" fill="#000" textLength="155.39" lengthAdjust="spacingAndGlyphs">aerExt_raman_1064</text><path d="M434.70 219.51H465.90" stroke="#800080" stroke-width="2" stroke-dasharray="6.17 2.67"/><text class="fs" x="478.90" y="225.41" font-size="17.72" fill="#000" textLength="118.82" lengthAdjust="spacingAndGlyphs">aerExt_RR_355</text><path d="M434.70 244.38H465.90" stroke="#808000" stroke-width="2" stroke-dasharray="6.17 2.67"/><text class="fs" x="478.90" y="250.28" font-size="17.72" fill="#000" textLength="118.82" lengthAdjust="spacingAndGlyphs">aerExt_RR_532</text><path d="M434.70 269.25H465.90" stroke="#ffa07a" stroke-width="2" stroke-dasharray="6.17 2.67"/><text class="fs" x="478.90" y="275.15" font-size="17.72" fill="#000" textLength="128.55" lengthAdjust="spacingAndGlyphs">aerExt_RR_1064</text><path d="M433.90 294.12H466.90" stroke="#00ffff" stroke-width="2"/><text class="fs" x="478.90" y="300.02" font-size="17.72" fill="#000" textLength="172.98" lengthAdjust="spacingAndGlyphs">aerBsc_klett_355 x LR</text><path d="M433.90 318.99H466.90" stroke="#00ff00" stroke-width="2"/><text class="fs" x="478.90" y="324.89" font-size="17.72" fill="#000" textLength="172.98" lengthAdjust="spacingAndGlyphs">aerBsc_klett_532 x LR</text><path d="M433.90 343.86H466.90" stroke="#fa8072" stroke-width="2"/><text class="fs" x="478.90" y="349.76" font-size="17.72" fill="#000" textLength="182.70" lengthAdjust="spacingAndGlyphs">aerBsc_klett_1064 x LR</text><rect x="775.50" y="131.60" width="208.00" height="153.32" rx="3.5" fill="#fff" fill-opacity="0.8" stroke="#cccccc" stroke-opacity="0.8" stroke-width="1.11"/><path d="M780.10 144.90H813.10" stroke="#0000ff" stroke-width="2"/><text class="fs" x="825.10" y="150.80" font-size="17.72" fill="#000" textLength="141.41" lengthAdjust="spacingAndGlyphs">aerLR_raman_355</text><path d="M780.10 169.77H813.10" stroke="#008000" stroke-width="2"/><text class="fs" x="825.10" y="175.67" font-size="17.72" fill="#000" textLength="141.41" lengthAdjust="spacingAndGlyphs">aerLR_raman_532</text><path d="M780.10 194.64H813.10" stroke="#ff0000" stroke-width="2"/><text class="fs" x="825.10" y="200.54" font-size="17.72" fill="#000" textLength="151.13" lengthAdjust="spacingAndGlyphs">aerLR_raman_1064</text><path d="M780.90 219.51H812.10" stroke="#800080" stroke-width="2" stroke-dasharray="6.17 2.67"/><text class="fs" x="825.10" y="225.41" font-size="17.72" fill="#000" textLength="114.56" lengthAdjust="spacingAndGlyphs">aerLR_RR_355</text><path d="M780.90 244.38H812.10" stroke="#808000" stroke-width="2" stroke-dasharray="6.17 2.67"/><text class="fs" x="825.10" y="250.28" font-size="17.72" fill="#000" textLength="114.56" lengthAdjust="spacingAndGlyphs">aerLR_RR_532</text><path d="M780.90 269.25H812.10" stroke="#ffa07a" stroke-width="2" stroke-dasharray="6.17 2.67"/><text class="fs" x="825.10" y="275.15" font-size="17.72" fill="#000" textLength="124.28" lengthAdjust="spacingAndGlyphs">aerLR_RR_1064</text><rect x="1021.60" y="131.60" width="275.90" height="78.71" rx="3.5" fill="#fff" fill-opacity="0.8" stroke="#cccccc" stroke-opacity="0.8" stroke-width="1.11"/><path d="M1026.20 144.90H1059.20" stroke="#ffa500" stroke-width="2"/><text class="fs" x="1071.20" y="150.80" font-size="17.72" fill="#000" textLength="199.56" lengthAdjust="spacingAndGlyphs">AE_beta_355_532_Raman</text><path d="M1026.20 169.77H1059.20" stroke="#ff00ff" stroke-width="2"/><text class="fs" x="1071.20" y="175.67" font-size="17.72" fill="#000" textLength="209.28" lengthAdjust="spacingAndGlyphs">AE_beta_532_1064_Raman</text><path d="M1026.20 194.64H1059.20" stroke="#000000" stroke-width="2"/><text class="fs" x="1071.20" y="200.54" font-size="17.72" fill="#000" textLength="217.59" lengthAdjust="spacingAndGlyphs">AE_parExt_355_532_Raman</text><rect x="1378.70" y="131.60" width="232.60" height="153.32" rx="3.5" fill="#fff" fill-opacity="0.8" stroke="#cccccc" stroke-opacity="0.8" stroke-width="1.11"/><path d="M1383.30 144.90H1416.30" stroke="#0000ff" stroke-width="2"/><text class="fs" x="1428.30" y="150.80" font-size="17.72" fill="#000" textLength="165.66" lengthAdjust="spacingAndGlyphs">parDepol_raman_355</text><path d="M1383.30 169.77H1416.30" stroke="#008000" stroke-width="2"/><text class="fs" x="1428.30" y="175.67" font-size="17.72" fill="#000" textLength="165.66" lengthAdjust="spacingAndGlyphs">parDepol_raman_532</text><path d="M1383.30 194.64H1416.30" stroke="#ff0000" stroke-width="2"/><text class="fs" x="1428.30" y="200.54" font-size="17.72" fill="#000" textLength="175.38" lengthAdjust="spacingAndGlyphs">parDepol_raman_1064</text><path d="M1383.30 219.51H1416.30" stroke="#00ffff" stroke-width="2"/><text class="fs" x="1428.30" y="225.41" font-size="17.72" fill="#000" textLength="151.27" lengthAdjust="spacingAndGlyphs">parDepol_klett_355</text><path d="M1383.30 244.38H1416.30" stroke="#00ff00" stroke-width="2"/><text class="fs" x="1428.30" y="250.28" font-size="17.72" fill="#000" textLength="151.27" lengthAdjust="spacingAndGlyphs">parDepol_klett_532</text><path d="M1383.30 269.25H1416.30" stroke="#fa8072" stroke-width="2"/><text class="fs" x="1428.30" y="275.15" font-size="17.72" fill="#000" textLength="160.99" lengthAdjust="spacingAndGlyphs">parDepol_klett_1064</text><rect x="1814.50" y="131.70" width="109.80" height="28.97" rx="3.5" fill="#fff" fill-opacity="0.8" stroke="#cccccc" stroke-opacity="0.8" stroke-width="1.11"/><path d="M1819.10 145.00H1852.10" stroke="#0000ff" stroke-width="2"/><text class="fs" x="1864.10" y="150.90" font-size="17.72" fill="#000" textLength="53.89" lengthAdjust="spacingAndGlyphs">WVMR</text><rect x="1820.50" y="185.20" width="80.70" height="28.97" rx="3.5" fill="#fff" fill-opacity="0.8" stroke="#cccccc" stroke-opacity="0.8" stroke-width="1.11"/><path d="M1825.10 198.50H1858.10" stroke="#008000" stroke-width="2"/><text class="fs" x="1870.10" y="204.40" font-size="17.72" fill="#000" textLength="24.83" lengthAdjust="spacingAndGlyphs">RH</text><rect x="1486.2" y="330.3" width="96.7" height="72.2" fill="#eff1f5" fill-opacity="0.8"/><text class="fa" x="1492.80" y="349.80" font-size="16.04" font-style="italic" fill="#000" textLength="9.68" lengthAdjust="spacingAndGlyphs">η</text><text class="fa" x="1502.48" y="352.80" font-size="11.23" fill="#000" textLength="20.42" lengthAdjust="spacingAndGlyphs">355</text><text class="fs" x="1522.90" y="349.80" font-size="17.72" fill="#000" textLength="53.75" lengthAdjust="spacingAndGlyphs">: 10.40</text><text class="fa" x="1492.80" y="371.70" font-size="16.04" font-style="italic" fill="#000" textLength="9.68" lengthAdjust="spacingAndGlyphs">η</text><text class="fa" x="1502.48" y="374.70" font-size="11.23" fill="#000" textLength="20.42" lengthAdjust="spacingAndGlyphs">532</text><text class="fs" x="1522.90" y="371.70" font-size="17.72" fill="#000" textLength="44.03" lengthAdjust="spacingAndGlyphs">: 6.26</text><text class="fa" x="1492.80" y="391.50" font-size="16.04" font-style="italic" fill="#000" textLength="9.68" lengthAdjust="spacingAndGlyphs">η</text><text class="fa" x="1502.48" y="394.50" font-size="11.23" fill="#000" textLength="27.22" lengthAdjust="spacingAndGlyphs">1064</text><text class="fs" x="1529.71" y="391.50" font-size="17.72" fill="#000" textLength="38.80" lengthAdjust="spacingAndGlyphs">: nan</text><rect x="195.1" y="1276" width="210.6" height="65.6" fill="#f2f3f7"/><text class="fs" x="199.87" y="1294.40" font-size="17.72" fill="#000" textLength="192.03" lengthAdjust="spacingAndGlyphs">ref.H_355: 4.37-5.87 km</text><text class="fs" x="199.87" y="1313.60" font-size="17.72" fill="#000" textLength="192.03" lengthAdjust="spacingAndGlyphs">ref.H_532: 5.05-6.54 km</text><text class="fs" x="199.87" y="1333.80" font-size="17.72" fill="#000" textLength="201.94" lengthAdjust="spacingAndGlyphs">ref.H_1064: 5.31-6.80 km</text><rect x="1695" y="1274" width="165" height="27.8" fill="#f2f3f7"/><text class="fs" x="1700.50" y="1291.80" font-size="17.72" fill="#000" textLength="153.32" lengthAdjust="spacingAndGlyphs">WV-calib.const.: 3.8</text><text class="fs" x="1000.40" y="1327.80" font-size="15.40" font-weight="bold" fill="#ff0000" textLength="89.09" lengthAdjust="spacingAndGlyphs">Preliminary</text><text class="fs" x="1000.80" y="1342.80" font-size="15.40" font-weight="bold" fill="#ff0000" textLength="59.90" lengthAdjust="spacingAndGlyphs">Results.</text><text class="fs" x="1499.64" y="1331.80" font-size="11.95" font-weight="bold" fill="#000" textLength="107.45" lengthAdjust="spacingAndGlyphs">© TROPOS 2026.</text><text class="fs" x="1499.95" y="1343.60" font-size="11.95" font-weight="bold" fill="#000" textLength="138.13" lengthAdjust="spacingAndGlyphs">CC BY SA 4.0 License.</text><g><defs><clipPath id="ccclip"><rect x="663.5" y="1298.5" width="153.2" height="52"/></clipPath></defs><rect x="662.6" y="1297.6" width="155" height="53.8" rx="1.5" fill="#333"/><rect x="663.5" y="1298.5" width="153.2" height="37.6" rx="1" fill="#abb1aa"/><circle cx="689" cy="1322.5" r="24.5" fill="#abb1aa" clip-path="url(#ccclip)"/><circle cx="689" cy="1322.5" r="20.3" fill="#333"/><circle cx="689" cy="1322.5" r="16.8" fill="#fff"/><text class="fa" x="689.50" y="1329.50" font-size="19.95" font-weight="bold" text-anchor="middle" fill="#333" textLength="22.53" lengthAdjust="spacingAndGlyphs">cc</text><circle cx="744.2" cy="1316.5" r="14.8" fill="#333"/><circle cx="744.2" cy="1316.5" r="12.3" fill="#fff"/><circle cx="781.0" cy="1316.5" r="14.8" fill="#333"/><circle cx="781.0" cy="1316.5" r="12.3" fill="#fff"/><circle cx="744.3" cy="1308.6" r="1.9" fill="#333"/><path d="M740.2 1312.2h8.2v6.6h-2v6.4h-4.2v-6.4h-2z" fill="#333"/><path d="M774.5 1314.5 A7 7 0 1 1 775 1319.5" fill="none" stroke="#333" stroke-width="3"/><path d="M771.3 1314.3 l3.5 4 l3.5 -4z" fill="#333"/><text class="fa" x="743.00" y="1348.50" font-size="12.08" font-weight="bold" text-anchor="middle" fill="#fff" textLength="16.46" lengthAdjust="spacingAndGlyphs">BY</text><text class="fa" x="780.00" y="1348.50" font-size="12.08" font-weight="bold" text-anchor="middle" fill="#fff" textLength="17.18" lengthAdjust="spacingAndGlyphs">SA</text></g></svg></body></html>
